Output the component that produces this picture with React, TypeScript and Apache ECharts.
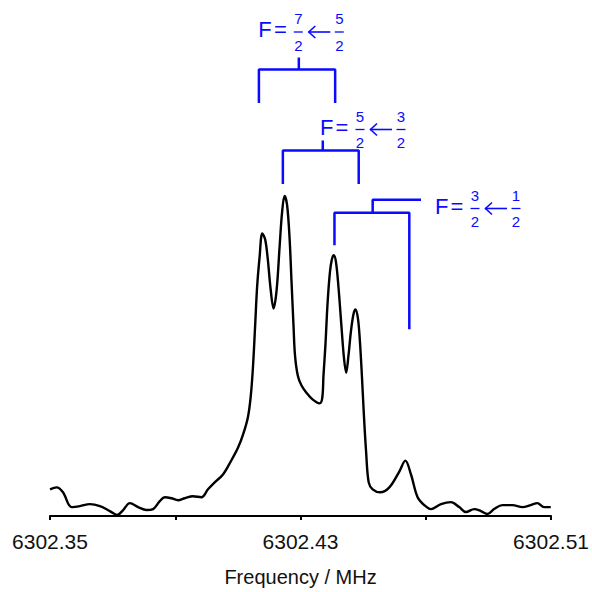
import React, { useEffect, useRef } from "react";
import * as echarts from "echarts";

// Spectrum: frequency (MHz) and intensity (arb. units)
const FREQ = [
  6302.35, 6302.35214, 6302.35414, 6302.35692, 6302.35956, 6302.36275, 6302.36594, 6302.36912,
  6302.37145, 6302.37336, 6302.3755, 6302.37814, 6302.38082, 6302.38292, 6302.38506, 6302.38665,
  6302.38879, 6302.39089, 6302.39303, 6302.39567, 6302.39835, 6302.40045, 6302.40259, 6302.40524,
  6302.40769, 6302.41002, 6302.41161, 6302.4132, 6302.41413, 6302.4148, 6302.4155, 6302.41614,
  6302.41693, 6302.41779, 6302.41869, 6302.41948, 6302.42044, 6302.42139, 6302.42235, 6302.42331,
  6302.4241, 6302.4249, 6302.4257, 6302.42649, 6302.42713, 6302.42777, 6302.42825, 6302.42914,
  6302.43032, 6302.43182, 6302.43383, 6302.43606, 6302.43692, 6302.43733, 6302.43797, 6302.43861,
  6302.4394, 6302.44004, 6302.44061, 6302.44132, 6302.44211, 6302.44307, 6302.44387, 6302.44457,
  6302.4453, 6302.4461, 6302.44689, 6302.44753, 6302.44833, 6302.44896, 6302.4496, 6302.45024,
  6302.45094, 6302.45177, 6302.45304, 6302.4554, 6302.45837, 6302.46155, 6302.46347, 6302.46528,
  6302.46739, 6302.46952, 6302.47166, 6302.47485, 6302.47803, 6302.48068, 6302.48281, 6302.48546,
  6302.48759, 6302.4897, 6302.49183, 6302.49448, 6302.49767, 6302.50085, 6302.50353, 6302.50563,
  6302.50777, 6302.50991,
];
const INTENSITY = [
  27, 29, 24, 9, 10, 12, 10, 5, 1, 6, 13, 9, 6, 7, 15, 19,
  18, 16, 18, 20, 19, 27, 34, 42, 55, 69, 82, 100, 122, 150, 192, 232,
  262, 286, 280, 262, 230, 210, 228, 272, 307, 324, 315, 282, 237, 192, 162, 142,
  132, 125, 118, 114, 119, 142, 174, 214, 247, 260, 264, 257, 232, 192, 160, 145,
  162, 187, 204, 209, 200, 177, 142, 102, 65, 34, 27, 24, 29, 45, 56, 42,
  19, 11, 7, 12, 14, 9, 4, 7, 5, 2, 7, 11, 11, 9, 11, 13,
  9, 9,
];

// Axis
const X_MIN = 6302.35;
const X_MAX = 6302.51;
const X_STEP = 0.04;
const X_LABELS = ["6302.35", "6302.43", "6302.51"];

// Hyperfine assignment brackets (frequency, intensity)
const BRACKET_LEFT = [6302.41671, 6302.42436, 6302.44084];
const BRACKET_RIGHT = [6302.44106, 6302.44858, 6302.46474];
const BRACKET_STEM = [6302.42946, 6302.43711, 6302.45304];
const BRACKET_TAIL = [null, null, 6302.46847];
const BRACKET_LEVEL = [452, 370, 307];
const BRACKET_LEFT_END = [418, 336, 274];
const BRACKET_RIGHT_END = [418, 336, 189];
const BRACKET_STEM_TOP = [464, 380, 320];

// Label fractions: F = upperNum/upperDen <- lowerNum/lowerDen
const LABEL_FRACTIONS = [
  ["7", "2", "5", "2"],
  ["5", "2", "3", "2"],
  ["3", "2", "1", "2"],
];

const BLUE = "#0a0aff";
const FONT = "'Liberation Sans', Arial, sans-serif";

const toKHz = (f: number) => (f - X_MIN) * 1000;

function labelGroup(x0: number, y0: number, fr: string[]) {
  const children: any[] = [];
  const txt = (t: string, x: number, y: number, size: number, align = "center") => ({
    type: "text",
    x,
    y,
    style: { text: t, fontSize: size, fontFamily: FONT, fill: BLUE, align, verticalAlign: "middle" },
  });
  const ln = (x1: number, y1: number, x2: number, y2: number, w = 1.3) => ({
    type: "line",
    shape: { x1, y1, x2, y2 },
    style: { stroke: BLUE, lineWidth: w },
  });
  children.push(txt("F", x0, y0, 22, "left"));
  children.push(txt("=", x0 + 22, y0, 22));
  children.push(txt(fr[0], x0 + 40, y0 - 11, 15));
  children.push(ln(x0 + 35.5, y0 + 2.5, x0 + 44.5, y0 + 2.5));
  children.push(txt(fr[1], x0 + 40, y0 + 15.5, 15));
  children.push(ln(x0 + 50, y0 + 2.5, x0 + 72, y0 + 2.5, 1.6));
  children.push({
    type: "polyline",
    shape: { points: [[x0 + 57, y0 - 3.5], [x0 + 50.5, y0 + 2.5], [x0 + 57, y0 + 8.5]] },
    style: { stroke: BLUE, lineWidth: 1.6, fill: "none" },
  });
  children.push(txt(fr[2], x0 + 81, y0 - 11, 15));
  children.push(ln(x0 + 76.5, y0 + 2.5, x0 + 85.5, y0 + 2.5));
  children.push(txt(fr[3], x0 + 81, y0 + 15.5, 15));
  return { type: "group", children };
}

export default function App() {
  const ref = useRef<HTMLDivElement>(null);
  useEffect(() => {
    if (!ref.current) return;
    const chart = echarts.init(ref.current, null, { renderer: "svg" });
    const blueLine = { color: BLUE, width: 2.5 };
    const bracketSeries: any[] = [];
    for (let i = 0; i < BRACKET_LEFT.length; i++) {
      bracketSeries.push({
        type: "line",
        silent: true,
        symbol: "none",
        lineStyle: blueLine,
        z: 3,
        data: [
          [toKHz(BRACKET_LEFT[i]), BRACKET_LEFT_END[i]],
          [toKHz(BRACKET_LEFT[i]), BRACKET_LEVEL[i]],
          [toKHz(BRACKET_RIGHT[i]), BRACKET_LEVEL[i]],
          [toKHz(BRACKET_RIGHT[i]), BRACKET_RIGHT_END[i]],
        ],
      });
      const stem: any[] = [
        [toKHz(BRACKET_STEM[i]), BRACKET_LEVEL[i]],
        [toKHz(BRACKET_STEM[i]), BRACKET_STEM_TOP[i]],
      ];
      const tail = BRACKET_TAIL[i];
      if (tail != null) stem.push([toKHz(tail), BRACKET_STEM_TOP[i]]);
      bracketSeries.push({
        type: "line",
        silent: true,
        symbol: "none",
        lineStyle: blueLine,
        z: 3,
        data: stem,
      });
    }
    const span = (X_MAX - X_MIN) * 1000;
    chart.setOption({
      animation: false,
      backgroundColor: "#ffffff",
      grid: { left: 50, right: 40, top: 20, bottom: 69, containLabel: false },
      xAxis: {
        type: "value",
        min: 0,
        max: span,
        interval: X_STEP * 1000,
        name: "Frequency / MHz",
        nameLocation: "middle",
        nameGap: 51,
        nameTextStyle: { fontSize: 20, fontFamily: FONT, color: "#111" },
        axisLine: { show: true, lineStyle: { color: "#000", width: 2 } },
        axisTick: { show: true, inside: false, length: 4, lineStyle: { color: "#000", width: 2 } },
        splitLine: { show: false },
        axisLabel: {
          fontSize: 21,
          fontFamily: FONT,
          color: "#111",
          margin: 15,
          showMinLabel: true,
          showMaxLabel: true,
          formatter: (v: number) => {
            const s = (X_MIN + v / 1000).toFixed(2);
            return X_LABELS.includes(s) ? s : "";
          },
        },
      },
      yAxis: { type: "value", min: 0, max: 502, show: false },
      graphic: [
        { ...labelGroup(258.3, 29.5, LABEL_FRACTIONS[0]) },
        { ...labelGroup(320, 127, LABEL_FRACTIONS[1]) },
        { ...labelGroup(435, 206, LABEL_FRACTIONS[2]) },
      ],
      series: [
        {
          type: "line",
          silent: true,
          symbol: "none",
          smooth: 0.35,
          lineStyle: { color: "#000", width: 2.4 },
          z: 2,
          data: FREQ.map((f, i) => [toKHz(f), INTENSITY[i]]),
        },
        ...bracketSeries,
      ],
    });
    return () => chart.dispose();
  }, []);
  return (
    <div
      ref={ref}
      style={{ position: "fixed", left: 0, top: 0, width: 592, height: 592, background: "#fff" }}
    />
  );
}
